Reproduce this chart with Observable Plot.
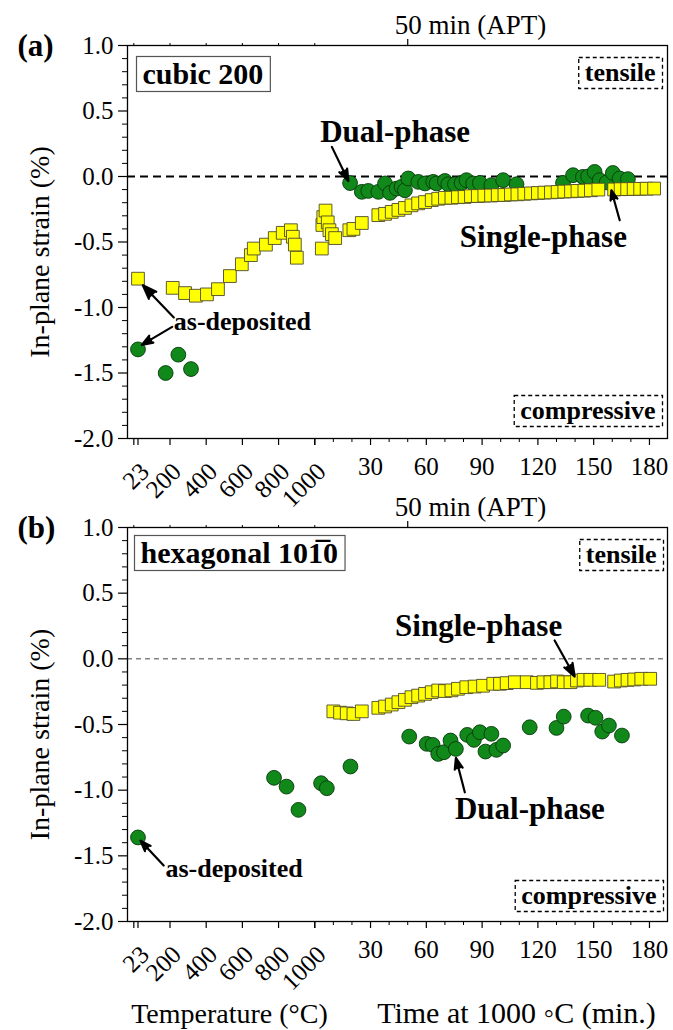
<!DOCTYPE html>
<html><head><meta charset="utf-8">
<script src="https://cdn.jsdelivr.net/npm/d3@7"></script>
<script src="https://cdn.jsdelivr.net/npm/@observablehq/plot@0.6"></script>
<style>
html,body{margin:0;padding:0;background:#fff;overflow:hidden;}
#chart svg{display:block;font-family:"Liberation Serif",serif !important;}
#chart svg text{font-family:"Liberation Serif",serif !important;}
</style></head><body><div id="chart"></div>
<script>
// ---------------- DATA ----------------
// Temperature ticks (°C) and time ticks (min at 1000 °C)
const tempMajorTicks = [0, 23, 200, 400, 600, 800, 1000];
const tempTickLabels = [23, 200, 400, 600, 800, 1000];
const timeMajorTicks = [30, 60, 90, 120, 150, 180];
const timeMinorTicks = [10, 20, 40, 50, 70, 80, 100, 110, 130, 140, 160, 170];
const topTempTicks = [0, 200, 400, 600, 800, 1000];
const aptTime = [50];
const yMajorTicks = [-2, -1.5, -1, -0.5, 0, 0.5, 1];
const yMinorTicks = [-1.9,-1.8,-1.7,-1.6,-1.4,-1.3,-1.2,-1.1,-0.9,-0.8,-0.7,-0.6,-0.4,-0.3,-0.2,-0.1,0.1,0.2,0.3,0.4,0.6,0.7,0.8,0.9];

// (a) cubic 200 — single-phase (squares) during ramp: [°C, strain %]
const cubicSingleRamp = [[23,-0.78],[215,-0.85],[283,-0.89],[343,-0.91],[404,-0.90],[465,-0.86],[531,-0.76],[597,-0.67],[647,-0.60],[663,-0.55],[730,-0.52],[779,-0.47],[823,-0.43],[868,-0.41],[879,-0.46],[890,-0.52],[901,-0.62]];
// (a) single-phase at 1000 °C: [min, strain %]
const cubicSingleHold = [[3.8,-0.55],[4.1,-0.37],[4.6,-0.31],[5.8,-0.26],[7.0,-0.35],[7.9,-0.41],[9.2,-0.44],[11.0,-0.47],[18.6,-0.41],[20.8,-0.40],[25.3,-0.355],[34.2,-0.295],[37.8,-0.285],[41.4,-0.27],[45.0,-0.255],[48.5,-0.24],[52.0,-0.22],[55.6,-0.205],[59.3,-0.195],[62.9,-0.18],[66.4,-0.17],[70.0,-0.163],[73.5,-0.162],[77.0,-0.158],[80.6,-0.156],[84.0,-0.150],[87.7,-0.149],[91.2,-0.146],[94.8,-0.145],[98.4,-0.142],[102.0,-0.141],[105.5,-0.137],[109.0,-0.136],[112.7,-0.132],[116.3,-0.129],[120.0,-0.126],[123.5,-0.123],[127.0,-0.121],[130.6,-0.118],[134.2,-0.115],[137.8,-0.113],[141.3,-0.110],[145.0,-0.108],[148.5,-0.105],[152.5,-0.100],[161.0,-0.099],[164.5,-0.097],[168.0,-0.096],[171.5,-0.095],[175.0,-0.094],[178.5,-0.093],[182.5,-0.092]];
// (a) dual-phase (circles) during ramp: [°C, strain %]
const cubicDualRamp = [[23,-1.32],[176,-1.50],[246,-1.36],[316,-1.47]];
// (a) dual-phase at 1000 °C: [min, strain %]
const cubicDualHold = [[19.0,-0.05],[25.3,-0.117],[28.8,-0.11],[34.2,-0.117],[37.8,-0.053],[40.5,-0.125],[44.0,-0.092],[46.7,-0.079],[48.5,-0.105],[50.3,-0.015],[55.7,-0.041],[59.3,-0.053],[63.7,-0.041],[65.5,-0.053],[70.0,-0.034],[71.8,-0.059],[75.4,-0.059],[79.0,-0.049],[81.6,-0.028],[85.2,-0.053],[88.8,-0.049],[95.0,-0.066],[101.3,-0.028],[108.5,-0.059],[133.5,-0.049],[138.9,0.01],[144.2,-0.003],[147.0,0.0],[150.5,0.035],[153.2,-0.028],[157.0,-0.045],[160.3,0.027],[164.0,-0.015],[168.4,-0.02]];

// (b) hexagonal 10-10 — single-phase at 1000 °C: [min, strain %]
const hexSingleHold = [[10.0,-0.40],[13.6,-0.41],[17.2,-0.415],[20.8,-0.42],[25.3,-0.40],[34.2,-0.373],[37.8,-0.363],[41.4,-0.348],[45.0,-0.33],[48.5,-0.312],[52.0,-0.292],[55.6,-0.28],[59.3,-0.267],[62.9,-0.254],[66.4,-0.241],[70.0,-0.245],[73.5,-0.24],[77.0,-0.228],[81.5,-0.216],[86.0,-0.211],[90.5,-0.205],[96.0,-0.19],[99.6,-0.19],[103.2,-0.185],[107.6,-0.178],[114.0,-0.178],[119.5,-0.183],[123.0,-0.178],[126.7,-0.178],[130.3,-0.172],[133.9,-0.178],[137.5,-0.178],[141.0,-0.165],[144.6,-0.16],[148.2,-0.16],[153.0,-0.16],[161.0,-0.173],[164.6,-0.165],[168.2,-0.16],[171.8,-0.157],[175.6,-0.152],[180.4,-0.152]];
// (b) dual-phase during ramp: [°C, strain %]
const hexDualRamp = [[23,-1.36],[775,-0.906],[844,-0.973],[910,-1.15]];
// (b) dual-phase at 1000 °C: [min, strain %]
const hexDualHold = [[3.4,-0.947],[6.5,-0.985],[19.2,-0.82],[50.8,-0.592],[60.2,-0.647],[63.4,-0.655],[66.4,-0.724],[69.5,-0.711],[73.0,-0.622],[75.9,-0.686],[82.0,-0.579],[85.6,-0.617],[88.8,-0.559],[91.8,-0.706],[95.0,-0.571],[97.7,-0.693],[101.3,-0.66],[115.6,-0.521],[130.0,-0.526],[133.9,-0.44],[147.0,-0.432],[151.0,-0.449],[154.6,-0.554],[158.2,-0.508],[165.2,-0.584]];

// ---------------- COMPOSITE X AXIS ----------------
// Broken x axis: temperature ramp (ending at 1000 °C) followed by time at 1000 °C.
const DEG = 0.0973;
const tc = T => (T - 1000) * DEG;  // temperature -> axis position
const tm = t => t;                 // time -> axis position
const XDOMAIN = [-100.7, 189.7];

const FONT = "'Liberation Serif', serif";
const SQ = {symbol: "square", r: 7.2, fill: "#ffff00", stroke: "#4d4a2a", strokeWidth: 0.9};
const CI = {r: 7.4, fill: "#11881a", stroke: "#073a0b", strokeWidth: 0.9};
const ARROW = {x1: "x1", y1: "y1", x2: "x2", y2: "y2", stroke: "black", fill: "black", strokeWidth: 2.2, headLength: 12, headAngle: 40};
const BOXED_SOLID = new Set(["cubic 200", "hexagonal 101\u03050"]);
const BOXED_DASHED = new Set(["tensile", "compressive"]);

function commonMarks(zeroStyle) {
  return [
    Plot.ruleY([0], zeroStyle),
    Plot.frame({stroke: "black", strokeWidth: 1.3}),
    Plot.axisY(yMajorTicks, {tickSize: 9, tickPadding: 5, tickFormat: d => d.toFixed(1), fontSize: 25, label: null, strokeWidth: 1.2}),
    Plot.axisY(yMinorTicks, {tickSize: 5, tickFormat: () => "", label: null, strokeWidth: 1}),
    Plot.axisX([...tempMajorTicks.map(tc), 0, ...timeMajorTicks.map(tm)], {anchor: "bottom", tickSize: 7, tickFormat: () => "", label: null, strokeWidth: 1.2}),
    Plot.axisX(timeMinorTicks.map(tm), {anchor: "bottom", tickSize: 4, tickFormat: () => "", label: null, strokeWidth: 1}),
    Plot.axisX(topTempTicks.map(tc), {anchor: "top", tickSize: 3, tickFormat: () => "", label: null, strokeWidth: 1}),
    Plot.axisX(aptTime.map(tm), {anchor: "top", tickSize: 7, tickFormat: () => "", label: null, strokeWidth: 1.2}),
    Plot.text(aptTime, {x: d => tm(d), frameAnchor: "top", dx: -13, dy: -12, textAnchor: "start", lineAnchor: "bottom", text: d => `${d} min (APT)`, fontSize: 27}),
    Plot.text(tempTickLabels, {x: d => tc(d), frameAnchor: "bottom", rotate: -45, textAnchor: "end", lineAnchor: "top", dx: 0, dy: 22, fontSize: 25, text: d => String(d)}),
    Plot.text(timeMajorTicks, {x: d => tm(d), frameAnchor: "bottom", lineAnchor: "bottom", dy: 36, fontSize: 25, text: d => String(d)}),
    Plot.text(["In-plane strain (%)"], {frameAnchor: "left", dx: -87, dy: 10, rotate: -90, textAnchor: "middle", lineAnchor: "middle", fontSize: 28, text: d => d})
  ];
}

const bold = {fontWeight: "bold", textAnchor: "start", lineAnchor: "bottom"};

function panelA() {
  return Plot.plot({
    width: 673, height: 482,
    marginTop: 45, marginBottom: 44, marginLeft: 127, marginRight: 6,
    x: {domain: XDOMAIN, axis: null},
    y: {domain: [-2, 1], axis: null},
    style: {fontFamily: FONT, background: "white", color: "black", overflow: "visible"},
    marks: [
      ...commonMarks({stroke: "black", strokeWidth: 1.8, strokeDasharray: "8,5"}),
      Plot.dot(cubicDualRamp, {x: d => tc(d[0]), y: d => d[1], ...CI}),
      Plot.dot(cubicDualHold, {x: d => tm(d[0]), y: d => d[1], ...CI}),
      Plot.dot(cubicSingleRamp, {x: d => tc(d[0]), y: d => d[1], ...SQ}),
      Plot.dot(cubicSingleHold, {x: d => tm(d[0]), y: d => d[1], ...SQ}),
      Plot.text(["(a)"], {frameAnchor: "top-left", dx: -110, dy: 10, ...bold, fontSize: 31, text: d => d}),
      Plot.text(["cubic 200"], {frameAnchor: "top-left", dx: 15, dy: 38, ...bold, fontSize: 30, text: d => d}),
      Plot.text(["tensile"], {frameAnchor: "top-right", dx: -12, dy: 35, ...bold, textAnchor: "end", fontSize: 26, text: d => d}),
      Plot.text(["compressive"], {frameAnchor: "bottom-right", dx: -12, dy: -20, ...bold, textAnchor: "end", fontSize: 26, text: d => d}),
      Plot.text([{x: tm(2.9), y: 0.264, t: "Dual-phase"}, {x: tm(78), y: -0.537, t: "Single-phase"}], {x: "x", y: "y", text: "t", ...bold, fontSize: 31}),
      Plot.text([{x: tc(221), y: -1.173, t: "as-deposited"}], {x: "x", y: "y", text: "t", ...bold, fontSize: 26}),
      Plot.arrow([
        {x1: tm(9.2), y1: 0.226, x2: tm(18.1), y2: -0.035},
        {x1: tm(164), y1: -0.334, x2: tm(159.5), y2: -0.105},
        {x1: tc(221), y1: -1.076, x2: tc(50), y2: -0.83},
        {x1: tc(212), y1: -1.148, x2: tc(44), y2: -1.285}
      ], ARROW)
    ]
  });
}

function panelB() {
  return Plot.plot({
    width: 673, height: 548,
    marginTop: 45, marginBottom: 109, marginLeft: 127, marginRight: 6,
    x: {domain: XDOMAIN, axis: null},
    y: {domain: [-2, 1], axis: null},
    style: {fontFamily: FONT, background: "white", color: "black", overflow: "visible"},
    marks: [
      ...commonMarks({stroke: "#444", strokeWidth: 1, strokeDasharray: "5,4"}),
      Plot.dot(hexDualRamp, {x: d => tc(d[0]), y: d => d[1], ...CI}),
      Plot.dot(hexDualHold, {x: d => tm(d[0]), y: d => d[1], ...CI}),
      Plot.dot(hexSingleHold, {x: d => tm(d[0]), y: d => d[1], ...SQ}),
      Plot.text(["(b)"], {frameAnchor: "top-left", dx: -110, dy: 10, ...bold, fontSize: 31, text: d => d}),
      Plot.text(["hexagonal 101\u03050"], {frameAnchor: "top-left", dx: 13, dy: 35, ...bold, fontSize: 30, text: d => d}),
      Plot.text(["tensile"], {frameAnchor: "top-right", dx: -11, dy: 35, ...bold, textAnchor: "end", fontSize: 26, text: d => d}),
      Plot.text(["compressive"], {frameAnchor: "bottom-right", dx: -11, dy: -18, ...bold, textAnchor: "end", fontSize: 26, text: d => d}),
      Plot.text([{x: tm(43.2), y: 0.177, t: "Single-phase"}, {x: tm(75.4), y: -1.219, t: "Dual-phase"}], {x: "x", y: "y", text: "t", ...bold, fontSize: 31}),
      Plot.text([{x: tc(175), y: -1.663, t: "as-deposited"}], {x: "x", y: "y", text: "t", ...bold, fontSize: 26}),
      Plot.arrow([
        {x1: tm(129), y1: 0.14, x2: tm(139.8), y2: -0.135},
        {x1: tm(80.7), y1: -1.016, x2: tm(75.9), y2: -0.755},
        {x1: tc(165), y1: -1.574, x2: tc(37), y2: -1.385}
      ], ARROW),
      Plot.text(["Temperature (°C)"], {frameAnchor: "bottom", dx: -168, dy: 101, lineAnchor: "bottom", fontSize: 28, text: d => d}),
      Plot.text(["Time at 1000 \u25E6C (min.)"], {frameAnchor: "bottom", dx: 119, dy: 101, lineAnchor: "bottom", fontSize: 30, text: d => d})
    ]
  });
}

const chart = document.getElementById("chart");
const svgA = panelA();
const svgB = panelB();
chart.appendChild(svgA);
chart.appendChild(svgB);

// draw frames around the boxed labels (solid box for the reflection, dashed for tensile / compressive)
const NS = "http://www.w3.org/2000/svg";
for (const svg of [svgA, svgB]) {
  svg.querySelectorAll("text").forEach(t => {
    const s = t.textContent;
    const solid = BOXED_SOLID.has(s), dashed = BOXED_DASHED.has(s);
    if (!solid && !dashed) return;
    const b = t.getBBox();
    const r = document.createElementNS(NS, "rect");
    r.setAttribute("x", b.x - 6);
    r.setAttribute("y", b.y);
    r.setAttribute("width", b.width + 13);
    r.setAttribute("height", b.height + 2);
    r.setAttribute("fill", "white");
    r.setAttribute("stroke", dashed ? "black" : "#555");
    r.setAttribute("stroke-width", dashed ? 1.3 : 1.2);
    if (dashed) r.setAttribute("stroke-dasharray", "4,3");
    const tr = t.getAttribute("transform");
    if (tr) r.setAttribute("transform", tr);
    t.parentNode.insertBefore(r, t);
  });
}
</script></body></html>
